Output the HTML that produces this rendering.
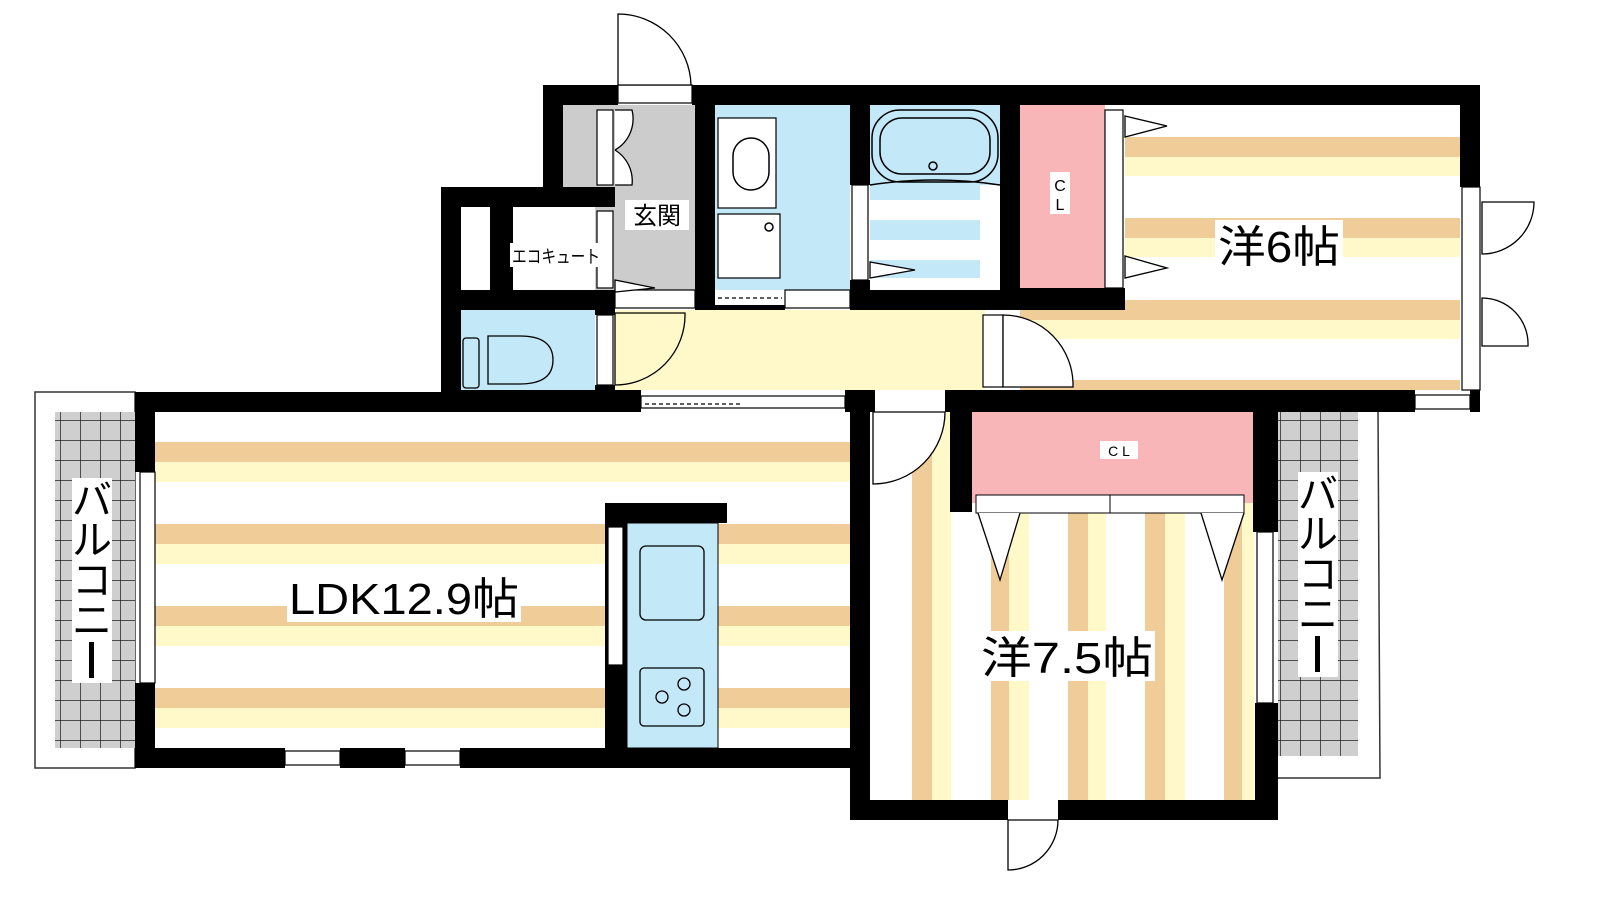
<!DOCTYPE html>
<html><head><meta charset="utf-8"><style>html,body{margin:0;padding:0;background:#fff}svg{display:block}text{font-family:"Liberation Sans","Noto Sans CJK JP",sans-serif}</style></head><body>
<svg width="1600" height="900" viewBox="0 0 1600 900" xmlns="http://www.w3.org/2000/svg">
<defs>
<pattern id="grid" width="20" height="20" patternUnits="userSpaceOnUse"><rect width="20" height="20" fill="#cfcfcf"/><path d="M0 0H20M0 0V20" stroke="#222" stroke-width="1.5"/></pattern>
</defs>
<rect x="35" y="392" width="100" height="376" fill="#fff" stroke="#333" stroke-width="1.5"/>
<rect x="55" y="412" width="80" height="336" fill="url(#grid)"/>
<path d="M1278 410 H1378 L1380 778 H1278" fill="#fff" stroke="#333" stroke-width="1.5"/>
<rect x="1278" y="412" width="80" height="344" fill="url(#grid)"/>
<rect x="155" y="412" width="695" height="336" fill="#fff"/>
<g fill="#f0cc98"><rect x="155" y="442" width="695" height="20"/><rect x="155" y="524" width="695" height="20"/><rect x="155" y="606" width="695" height="20"/><rect x="155" y="688" width="695" height="20"/></g>
<g fill="#fff8c8"><rect x="155" y="462" width="695" height="20"/><rect x="155" y="544" width="695" height="20"/><rect x="155" y="626" width="695" height="20"/><rect x="155" y="708" width="695" height="20"/></g>
<rect x="1020" y="105" width="440" height="285" fill="#fff"/>
<g fill="#f0cc98"><rect x="1125" y="137" width="335" height="20"/><rect x="1125" y="218" width="335" height="20"/><rect x="1020" y="300" width="440" height="20"/><rect x="1020" y="380" width="440" height="10"/></g>
<g fill="#fff8c8"><rect x="1125" y="157" width="335" height="19"/><rect x="1125" y="238" width="335" height="19"/><rect x="1020" y="320" width="440" height="19"/></g>
<rect x="870" y="412" width="388" height="388" fill="#fff"/>
<g fill="#f0cc98"><rect x="912" y="412" width="20" height="388"/><rect x="991" y="412" width="18" height="388"/><rect x="1068" y="412" width="20" height="388"/><rect x="1145" y="412" width="20" height="388"/><rect x="1224" y="412" width="18" height="388"/></g>
<g fill="#fff8c8"><rect x="932" y="412" width="19" height="388"/><rect x="1009" y="412" width="20" height="388"/><rect x="1088" y="412" width="18" height="388"/><rect x="1165" y="412" width="20" height="388"/><rect x="1242" y="412" width="12" height="388"/></g>
<rect x="615" y="310" width="370" height="80" fill="#fff8c8"/>
<rect x="461" y="310" width="134" height="80" fill="#c3e8f8"/>
<rect x="563" y="105" width="132" height="185" fill="#ccc"/>
<rect x="513" y="207" width="82" height="83" fill="#fff"/>
<rect x="461" y="207" width="29" height="83" fill="#fff"/>
<rect x="715" y="105" width="135" height="185" fill="#c3e8f8"/>
<rect x="870" y="105" width="130" height="185" fill="#c3e8f8"/>
<g fill="#fff"><rect x="870" y="200" width="110" height="20"/><rect x="870" y="240" width="110" height="20"/><rect x="870" y="278" width="110" height="12"/><rect x="980" y="185" width="20" height="105"/></g>
<path d="M870 185 Q935 175 1000 185" fill="none" stroke="#000" stroke-width="1.5"/>
<rect x="872" y="110" width="126" height="72" rx="28" fill="none" stroke="#000" stroke-width="1.5"/>
<rect x="880" y="118" width="110" height="56" rx="22" fill="none" stroke="#000" stroke-width="1.5"/>
<circle cx="933" cy="166" r="4" fill="none" stroke="#000" stroke-width="1.5"/>
<rect x="1020" y="105" width="85" height="183" fill="#f9b6b8"/>
<rect x="718" y="118" width="58" height="90" fill="#fff" stroke="#000" stroke-width="1.2"/>
<rect x="733" y="138" width="36" height="52" rx="18" fill="none" stroke="#000" stroke-width="1.5"/>
<rect x="718" y="214" width="62" height="64" fill="#fff" stroke="#000" stroke-width="1.2"/>
<circle cx="769" cy="227" r="4" fill="none" stroke="#000" stroke-width="1.5"/>
<rect x="463" y="338" width="16" height="50" rx="3" fill="none" stroke="#000" stroke-width="1.3"/>
<path d="M488 336 H520 Q553 336 553 360 Q553 384 520 384 H488 Z" fill="none" stroke="#000" stroke-width="1.3"/>
<rect x="972" y="412" width="281" height="91" fill="#f9b6b8"/>
<rect x="976" y="495" width="268" height="18" fill="#fff" stroke="#000" stroke-width="1"/>
<line x1="1110" y1="495" x2="1110" y2="513" stroke="#000"/>
<path d="M978 513 L1000 580 L1020 513 M1201 513 L1222 580 L1244 513" fill="#fff" stroke="#000" stroke-width="1.3"/>
<rect x="627" y="523" width="91" height="225" fill="#c3e8f8" stroke="#000" stroke-width="1"/>
<rect x="640" y="546" width="64" height="74" rx="6" fill="none" stroke="#000" stroke-width="1.3"/>
<rect x="640" y="668" width="64" height="58" rx="4" fill="none" stroke="#000" stroke-width="1.3"/>
<g fill="none" stroke="#000" stroke-width="1.3"><circle cx="684" cy="684" r="6"/><circle cx="662" cy="697" r="6"/><circle cx="684" cy="710" r="6"/></g>
<g fill="#000">
<rect x="543" y="85" width="75" height="20"/><rect x="692" y="85" width="788" height="20"/>
<rect x="543" y="85" width="20" height="102"/>
<rect x="441" y="187" width="174" height="20"/>
<rect x="441" y="187" width="20" height="223"/>
<rect x="490" y="207" width="23" height="83"/>
<rect x="441" y="290" width="174" height="20"/>
<rect x="595" y="290" width="20" height="25"/><rect x="595" y="385" width="20" height="25"/>
<rect x="695" y="85" width="20" height="225"/>
<rect x="850" y="85" width="20" height="100"/><rect x="850" y="280" width="20" height="30"/>
<rect x="715" y="305" width="70" height="5"/>
<rect x="850" y="290" width="150" height="20"/>
<rect x="1000" y="85" width="20" height="225"/>
<rect x="1000" y="288" width="125" height="22"/>
<rect x="1460" y="85" width="20" height="102"/>
<rect x="441" y="390" width="200" height="22"/>
<rect x="135" y="392" width="506" height="20"/>
<rect x="845" y="390" width="30" height="22"/>
<rect x="945" y="390" width="470" height="22"/><rect x="1470" y="390" width="10" height="22"/>
<rect x="950" y="392" width="22" height="120"/>
<rect x="1253" y="392" width="25" height="140"/>
<rect x="1255" y="703" width="23" height="117"/>
<rect x="135" y="392" width="20" height="80"/><rect x="135" y="683" width="20" height="85"/>
<rect x="135" y="748" width="150" height="20"/><rect x="340" y="748" width="65" height="20"/><rect x="460" y="748" width="410" height="20"/>
<rect x="850" y="392" width="20" height="428"/>
<rect x="850" y="800" width="158" height="20"/><rect x="1058" y="800" width="220" height="20"/>
<rect x="605" y="503" width="122" height="20"/><rect x="605" y="523" width="22" height="225"/>
</g>
<g fill="#fff" stroke="#000" stroke-width="1.2">
<rect x="608" y="527" width="15" height="138"/>
<rect x="140" y="472" width="15" height="211"/>
<rect x="285" y="751" width="55" height="14"/><rect x="405" y="751" width="55" height="14"/>
<rect x="1257" y="532" width="16" height="171"/>
<rect x="641" y="396" width="204" height="12"/>
<rect x="1415" y="395" width="55" height="14"/>
<rect x="1462" y="187" width="18" height="203"/>
<rect x="1105" y="110" width="18" height="178"/>
<rect x="983" y="315" width="20" height="72"/>
<rect x="597" y="315" width="16" height="70"/>
<rect x="597" y="110" width="16" height="75"/>
<rect x="597" y="211" width="16" height="77"/>
<rect x="615" y="290" width="80" height="18"/>
<rect x="785" y="290" width="65" height="18"/>
<rect x="852" y="185" width="16" height="95"/>
<rect x="618" y="85" width="74" height="18"/>
</g>
<line x1="645" y1="404" x2="740" y2="404" stroke="#000" stroke-width="1.3" stroke-dasharray="4 3"/>
<line x1="718" y1="298" x2="782" y2="298" stroke="#000" stroke-width="1.3" stroke-dasharray="4 3"/>
<g fill="#fff" stroke="#000" stroke-width="1.3">
<path d="M618 85 V14 A73 73 0 0 1 691 85 Z"/>
<path d="M615 313 H685 A70 70 0 0 1 615 385 Z" fill="#fff8c8"/>
<path d="M1003 315 A70 70 0 0 1 1073 387 H1003 Z"/>
<path d="M873 412 H945 A72 72 0 0 1 873 484 Z"/>
<path d="M1008 820 V870 A50 50 0 0 0 1058 820 Z"/>
<path d="M1482 202 H1534 A52 52 0 0 1 1482 254 Z"/>
<path d="M1482 298 A46 46 0 0 1 1528 346 H1482 Z"/>
<path d="M615 110 H632 A36 36 0 0 1 615 150 M615 150 A36 36 0 0 1 632 185 H615" />
<path d="M615 280 L655 288 L615 292 Z"/>
<path d="M870 262 L915 270 L870 278 Z"/>
<path d="M1125 116 L1167 126 L1125 137 Z"/>
<path d="M1125 256 L1167 268 L1125 278 Z"/>
</g>
<g font-size="24" text-anchor="middle">
<rect x="625" y="200" width="64" height="30" fill="#fff"/><text x="657" y="224">玄関</text>
<rect x="510" y="243" width="92" height="24" fill="#fff"/><text x="556" y="263" font-size="18" textLength="88" lengthAdjust="spacingAndGlyphs">エコキュート</text>
<rect x="1050" y="172" width="20" height="42" fill="#fff"/><text x="1060" y="191" font-size="16">C</text><text x="1060" y="210" font-size="16">L</text>
<rect x="1100" y="441" width="38" height="18" fill="#fff"/><text x="1119" y="456" font-size="14">C L</text>
<rect x="1215" y="220" width="128" height="50" fill="#fff"/><text x="1279" y="262" font-size="44" textLength="122" lengthAdjust="spacingAndGlyphs">洋6帖</text>
<rect x="287" y="572" width="234" height="50" fill="#fff"/><text x="404" y="614" font-size="44" textLength="230" lengthAdjust="spacingAndGlyphs">LDK12.9帖</text>
<rect x="979" y="631" width="176" height="50" fill="#fff"/><text x="1067" y="673" font-size="44" textLength="172" lengthAdjust="spacingAndGlyphs">洋7.5帖</text>
<rect x="72" y="478" width="40" height="205" fill="#fff"/>
<text x="92" y="514" font-size="40">バ</text><text x="92" y="554" font-size="40">ル</text><text x="92" y="594" font-size="40">コ</text><text x="92" y="634" font-size="40">ニ</text>
<rect x="89" y="642" width="5" height="36" fill="#000"/>
<rect x="1298" y="472" width="40" height="205" fill="#fff"/>
<text x="1318" y="508" font-size="40">バ</text><text x="1318" y="548" font-size="40">ル</text><text x="1318" y="588" font-size="40">コ</text><text x="1318" y="628" font-size="40">ニ</text>
<rect x="1315" y="636" width="5" height="36" fill="#000"/>
</g>
</svg>
</body></html>
